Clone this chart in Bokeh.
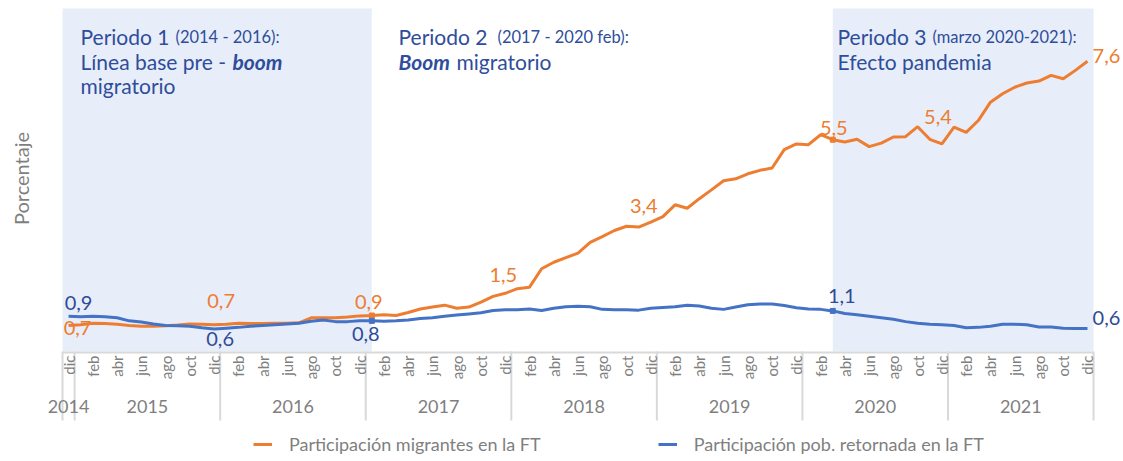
import math
from bokeh.plotting import figure
from bokeh.models import (Range1d, ColumnDataSource, LabelSet, Label, Legend, LegendItem)
from bokeh.core.properties import value
from bokeh.embed import file_html
from bokeh.resources import INLINE

# ---------------- data ----------------
month_names = ["ene", "feb", "mar", "abr", "may", "jun", "jul", "ago", "sep", "oct", "nov", "dic"]
months = ["dic"] + month_names * 7          # dic 2014 ... dic 2021
years = ["2014", "2015", "2016", "2017", "2018", "2019", "2020", "2021"]
year_first = [0, 1, 13, 25, 37, 49, 61, 73]
year_last = [0, 12, 24, 36, 48, 60, 72, 84]

migrantes = [0.68, 0.70, 0.74, 0.73, 0.71, 0.68, 0.66, 0.66, 0.67, 0.69, 0.72, 0.71,
             0.70, 0.71, 0.74, 0.73, 0.73, 0.74, 0.74, 0.75, 0.88, 0.88, 0.88, 0.90,
             0.93, 0.94, 0.96, 0.94, 1.02, 1.11, 1.16, 1.21, 1.13, 1.16, 1.29, 1.44,
             1.52, 1.64, 1.68, 2.16, 2.33, 2.45, 2.57, 2.85, 3.00, 3.16, 3.27, 3.25,
             3.38, 3.52, 3.83, 3.74, 3.99, 4.22, 4.46, 4.51, 4.64, 4.73, 4.79, 5.27,
             5.42, 5.40, 5.66, 5.53, 5.47, 5.54, 5.35, 5.44, 5.60, 5.61, 5.87, 5.54,
             5.42, 5.86, 5.72, 6.03, 6.51, 6.73, 6.90, 7.01, 7.06, 7.21, 7.12, 7.34,
             7.58]
retornada = [0.92, 0.91, 0.92, 0.91, 0.88, 0.80, 0.77, 0.72, 0.68, 0.67, 0.66, 0.62,
             0.59, 0.61, 0.63, 0.66, 0.68, 0.70, 0.72, 0.74, 0.79, 0.82, 0.78, 0.78,
             0.80, 0.80, 0.79, 0.80, 0.82, 0.86, 0.88, 0.92, 0.95, 0.98, 1.01, 1.07,
             1.09, 1.09, 1.11, 1.07, 1.13, 1.17, 1.18, 1.17, 1.10, 1.09, 1.09, 1.08,
             1.13, 1.15, 1.17, 1.21, 1.19, 1.13, 1.10, 1.16, 1.22, 1.24, 1.24, 1.20,
             1.14, 1.11, 1.10, 1.06, 0.99, 0.96, 0.92, 0.88, 0.84, 0.78, 0.74, 0.71,
             0.70, 0.68, 0.62, 0.63, 0.66, 0.71, 0.71, 0.70, 0.64, 0.64, 0.61, 0.60,
             0.60]

mig_label_idx = [0, 12, 25, 36, 48, 63, 72, 84]
ret_label_idx = [0, 12, 25, 63, 84]
marker_idx = [25, 63]

period_shade_start = [None, 63]   # None -> first category edge
period_shade_end = [25, None]     # None -> last category edge

series_names = ["Participación migrantes en la FT", "Participación pob. retornada en la FT"]
y_axis_title = "Porcentaje"

# ---------------- styles / layout ----------------
ORANGE = "#ed7d31"
BLUE = "#4472c4"
BLUE_TXT = "#2e4c98"
GREY = "#7f7f7f"
AXGREY = "#d9d9d9"
SHADE = "#e8eef9"
TXT = "#2e4d9b"
FONT = "Lato"

W, H = 1123, 461
PX_X = 12.13           # pixels per month
PX_Y = 38.3            # pixels per percentage point
ORIG_X, ORIG_Y = 62, 351   # pixel of the first category edge / of y = 0

mig_offsets = [(9, -3), (7, 24), (-3, 13), (-2, 18), (-7, 16), (1, 12), (-4, 27), (19, 5)]
ret_offsets = [(10, 13), (6, -10), (-6, -13), (9, 15), (19, 11)]

x = list(range(len(months)))
cat0, cat1 = -0.5, len(months) - 0.5     # edges of first / last category
x_lo = cat0 - ORIG_X / PX_X
x_hi = cat0 + (W - ORIG_X) / PX_X
y_hi = ORIG_Y / PX_Y
y_lo = -(H - ORIG_Y) / PX_Y
shade_top = (ORIG_Y - 8) / PX_Y
sep_bottom = -(420 - ORIG_Y) / PX_Y

p = figure(width=W, height=H, output_backend="svg", toolbar_location=None,
           x_range=Range1d(x_lo, x_hi), y_range=Range1d(y_lo, y_hi),
           min_border=0)
p.outline_line_color = None
p.grid.visible = False
p.xaxis.visible = False
p.yaxis.visible = False
p.background_fill_color = "white"
p.border_fill_color = "white"

# period shading
qs = [cat0 if s is None else s for s in period_shade_start]
qe = [cat1 if e is None else e for e in period_shade_end]
p.quad(left=qs, right=qe, bottom=0, top=shade_top, fill_color=SHADE, line_color=None)

# category axis: baseline, year separators, month and year labels
sep = [f - 0.5 for f in year_first] + [year_last[-1] + 0.5]
p.segment(x0=[cat0], x1=[cat1], y0=[-1 / PX_Y], y1=[-1 / PX_Y], line_color=AXGREY, line_width=2)
p.segment(x0=sep, x1=sep, y0=[0] * len(sep), y1=[sep_bottom] * len(sep),
          line_color=AXGREY, line_width=2)

mon_src = ColumnDataSource(dict(x=x[::2], y=[0] * len(x[::2]), t=months[::2]))
p.add_layout(LabelSet(x="x", y="y", text="t", source=mon_src, angle=math.pi / 2,
                      y_offset=-4, text_align="right", text_baseline="middle",
                      text_color=GREY, text_font=value(FONT), text_font_size="15px"))
centers = [(a + b) / 2 for a, b in zip(year_first, year_last)]
yr_src = ColumnDataSource(dict(x=centers, y=[0] * len(centers), t=years))
p.add_layout(LabelSet(x="x", y="y", text="t", source=yr_src, y_offset=-55,
                      text_align="center", text_baseline="middle",
                      text_color=GREY, text_font=value(FONT), text_font_size="18px"))

# series
r_mig = p.line(x, migrantes, line_color=ORANGE, line_width=3)
r_ret = p.line(x, retornada, line_color=BLUE, line_width=3)
p.scatter([x[i] for i in marker_idx], [migrantes[i] for i in marker_idx], marker="square",
          size=5, color=ORANGE)
p.scatter([x[i] for i in marker_idx], [retornada[i] for i in marker_idx], marker="square",
          size=5, color=BLUE)

def fmt(v):
    return f"{v:.1f}".replace(".", ",")

src_m = ColumnDataSource(dict(x=[x[i] for i in mig_label_idx], y=[migrantes[i] for i in mig_label_idx],
                              t=[fmt(migrantes[i]) for i in mig_label_idx],
                              dx=[o[0] for o in mig_offsets], dy=[o[1] for o in mig_offsets]))
src_r = ColumnDataSource(dict(x=[x[i] for i in ret_label_idx], y=[retornada[i] for i in ret_label_idx],
                              t=[fmt(retornada[i]) for i in ret_label_idx],
                              dx=[o[0] for o in ret_offsets], dy=[o[1] for o in ret_offsets]))
for src, col in ((src_m, ORANGE), (src_r, BLUE_TXT)):
    p.add_layout(LabelSet(x="x", y="y", text="t", source=src, x_offset="dx", y_offset="dy",
                          text_align="center", text_baseline="middle", text_color=col,
                          text_font=value(FONT), text_font_size="20px"))

# y axis title
p.add_layout(Label(x=20, y=H - 178, x_units="screen", y_units="screen", text=y_axis_title,
                   angle=math.pi / 2, text_align="center", text_baseline="middle",
                   text_font=FONT, text_font_size="20px", text_color=GREY))

# period texts (screen units from bottom-left)
L1, L2, L3 = 36, 61, 85
texts = [
    ("Periodo 1", 80, H - L1, "21px", "normal"),
    ("(2014 - 2016):", 175, H - L1, "16.5px", "normal"),
    ("Línea base pre -", 80, H - L2, "21px", "normal"),
    ("boom", 232, H - L2, "21px", "bold italic"),
    ("migratorio", 80, H - L3, "21px", "normal"),
    ("Periodo 2", 398, H - L1, "21px", "normal"),
    ("(2017 - 2020  feb):", 497, H - L1, "16.5px", "normal"),
    ("Boom", 398, H - L2, "21px", "bold italic"),
    ("migratorio", 456, H - L2, "21px", "normal"),
    ("Periodo 3", 837, H - L1, "21px", "normal"),
    ("(marzo 2020-2021):", 932, H - L1, "16.5px", "normal"),
    ("Efecto pandemia", 837, H - L2, "21px", "normal"),
]
for t, sx, sy, fs, st in texts:
    p.add_layout(Label(x=sx, y=sy, x_units="screen", y_units="screen", text=t,
                       text_font=FONT, text_font_size=fs, text_font_style=st,
                       text_color=TXT, text_baseline="alphabetic", text_align="left"))

# legend
legend = Legend(items=[LegendItem(label=series_names[0], renderers=[r_mig]),
                       LegendItem(label=series_names[1], renderers=[r_ret])],
                orientation="horizontal", location=(253, 6))
legend.label_text_font = FONT
legend.label_text_font_size = "18px"
legend.label_text_color = GREY
legend.glyph_width = 19
legend.label_standoff = 17
legend.spacing = 117
legend.padding = 0
legend.margin = 0
legend.background_fill_alpha = 0
legend.border_line_color = None
p.add_layout(legend)

open("out.html", "w").write(file_html(p, INLINE))
